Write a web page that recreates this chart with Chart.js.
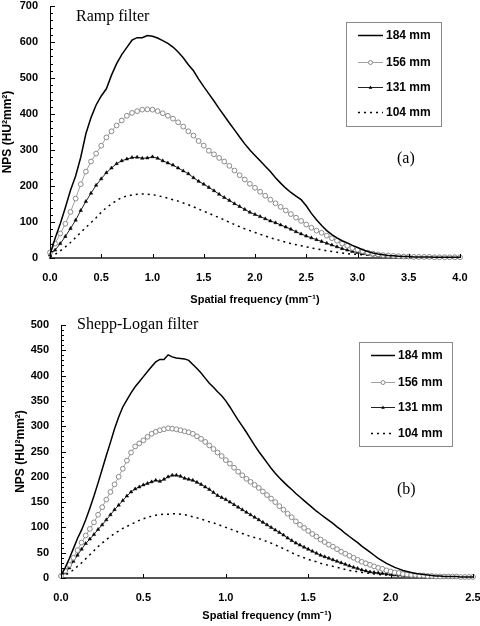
<!DOCTYPE html>
<html>
<head>
<meta charset="utf-8">
<script src="https://cdn.jsdelivr.net/npm/chart.js@4/dist/chart.umd.min.js"></script>
<style>
html, body { margin: 0; padding: 0; background: #fff; }
#wrap { position: relative; width: 480px; height: 626px; overflow: hidden; }
canvas { position: absolute; left: 0; }
#rampChart { top: 0; }
#sheppChart { top: 310px; }
</style>
</head>
<body>
<div id="wrap">
  <canvas id="rampChart" width="480" height="310"></canvas>
  <canvas id="sheppChart" width="480" height="316"></canvas>
</div>
<script>
// phantom diameters
const sizeLabels = ["184 mm", "156 mm", "131 mm", "104 mm"];

// (a) ramp filter, frequency in mm^-1
const freqA = [0,0.05,0.1,0.15,0.2,0.25,0.3,0.35,0.4,0.45,
	0.5,0.55,0.6,0.65,0.7,0.75,0.8,0.85,0.9,0.95,
	1,1.05,1.1,1.15,1.2,1.25,1.3,1.35,1.4,1.45,
	1.5,1.55,1.6,1.65,1.7,1.75,1.8,1.85,1.9,1.95,
	2,2.05,2.1,2.15,2.2,2.25,2.3,2.35,2.4,2.45,
	2.5,2.55,2.6,2.65,2.7,2.75,2.8,2.85,2.9,2.95,
	3,3.05,3.1,3.15,3.2,3.25,3.3,3.35,3.4,3.45,
	3.5,3.55,3.6,3.65,3.7,3.75,3.8,3.85,3.9,3.95,
	4];
const rampNps184 = [10,55,95,140,188,228,280,345,390,425,
	450,470,508,540,565,585,605,612,612,618,
	616,611,604,596,586,572,556,537,520,497,
	476,456,436,415,395,375,356,336,317,300,
	285,270,255,240,223,208,194,182,172,162,
	145,124,106,90,76,65,56,48,42,35,
	29,23,18,14,11,9,7,6,5,4,
	4,3,3,3,3,2,2,2,2,2,
	2];
const rampNps156 = [15,40,68,95,128,165,205,240,268,290,
	312,335,352,368,382,395,403,408,412,413,
	412,408,402,395,387,377,365,352,340,325,
	312,298,288,278,268,256,243,230,218,206,
	195,184,173,162,152,142,132,122,112,103,
	93,84,76,70,62,55,48,40,34,28,
	23,19,15,12,10,8,7,6,5,4,
	4,3,3,3,3,2,2,2,2,2,
	2];
const rampNps131 = [8,22,40,60,82,105,132,157,180,202,
	220,237,250,262,270,275,279,280,277,278,
	281,277,270,264,258,250,242,234,223,213,
	205,196,187,177,168,160,151,143,135,127,
	121,115,109,103,98,92,86,80,73,67,
	61,56,51,46,41,36,31,26,22,18,
	15,12,10,8,7,6,5,5,4,4,
	3,3,3,3,3,3,3,3,3,3,
	3];
const rampNps104 = [3,10,20,31,43,57,71,85,98,112,
	127,140,150,160,168,172,175,177,178,177,
	176,173,170,166,162,158,153,148,142,136,
	130,124,118,112,106,99,93,87,81,76,
	71,66,61,56,52,48,44,40,37,34,
	31,28,25,23,20,18,16,14,12,11,
	10,9,8,7,6,5,5,4,4,3,
	3,3,3,2,2,2,2,2,2,2,
	2];

// (b) Shepp-Logan filter
const freqB = [0,0.025,0.05,0.075,0.1,0.125,0.15,0.175,0.2,0.225,
	0.25,0.275,0.3,0.325,0.35,0.375,0.4,0.425,0.45,0.475,
	0.5,0.525,0.55,0.575,0.6,0.625,0.65,0.675,0.7,0.725,
	0.75,0.775,0.8,0.825,0.85,0.875,0.9,0.925,0.95,0.975,
	1,1.025,1.05,1.075,1.1,1.125,1.15,1.175,1.2,1.225,
	1.25,1.275,1.3,1.325,1.35,1.375,1.4,1.425,1.45,1.475,
	1.5,1.525,1.55,1.575,1.6,1.625,1.65,1.675,1.7,1.725,
	1.75,1.775,1.8,1.825,1.85,1.875,1.9,1.925,1.95,1.975,
	2,2.025,2.05,2.075,2.1,2.125,2.15,2.175,2.2,2.225,
	2.25,2.275,2.3,2.325,2.35,2.375,2.4,2.425,2.45,2.475,
	2.5];
const sheppNps184 = [5,20,38,58,78,95,115,138,162,188,
	215,242,268,295,318,338,352,366,378,388,
	398,408,418,427,432,432,441,437,435,434,
	433,430,422,414,405,395,385,377,368,360,
	350,338,325,312,300,288,275,262,250,239,
	228,217,207,198,190,182,175,167,160,153,
	146,139,132,126,120,114,108,101,95,88,
	82,76,70,63,57,51,45,39,34,29,
	25,21,18,15,13,11,9,8,7,6,
	5,4,4,3,3,3,3,2,2,2,
	2];
const sheppNps156 = [4,14,26,40,55,70,84,97,110,125,
	140,155,170,185,200,216,232,248,260,266,
	272,279,285,289,292,294,296,295,294,292,
	290,288,285,280,275,269,262,255,248,241,
	233,226,218,210,203,196,190,184,178,171,
	164,157,150,142,135,127,120,112,105,99,
	93,87,82,76,71,66,62,57,52,48,
	44,40,36,32,29,26,23,20,18,15,
	13,11,10,8,7,6,6,5,5,4,
	4,3,3,3,3,3,3,2,2,2,
	2];
const sheppNps131 = [3,10,20,33,45,57,68,77,86,96,
	105,115,125,135,144,153,162,170,176,180,
	184,187,190,193,191,195,200,203,203,201,
	197,195,193,189,185,180,175,169,163,159,
	155,150,145,140,135,130,125,120,115,110,
	105,100,95,90,85,79,74,69,65,61,
	57,53,49,45,42,39,36,33,30,27,
	24,21,19,16,14,12,11,10,9,8,
	7,6,6,5,5,4,4,4,4,3,
	3,3,3,3,3,2,2,2,2,2,
	2];
const sheppNps104 = [2,6,10,16,23,30,38,46,54,62,
	69,76,82,88,93,98,102,106,110,114,
	117,120,122,124,125,126,126,127,127,126,
	125,123,121,119,116,114,111,109,106,103,
	100,97,94,91,88,85,82,80,78,75,
	72,69,65,62,58,54,50,46,43,40,
	37,34,32,29,27,25,23,21,19,17,
	15,14,12,11,10,9,8,7,6,6,
	5,5,4,4,3,3,3,3,2,2,
	2,2,2,2,1,1,1,1,1,1,
	1];

Chart.defaults.font.family = "'Liberation Sans', Arial, sans-serif";
Chart.defaults.color = "#000";

const lineStyles = [
	{ borderColor: "#000", borderWidth: 1.5, pointRadius: 0 },
	{ borderColor: "#a0a0a0", borderWidth: 1, pointStyle: "circle", pointRadius: 2.4,
		pointBorderColor: "#8a8a8a", pointBackgroundColor: "#fff", pointBorderWidth: 1 },
	{ borderColor: "#222", borderWidth: 1, pointStyle: "triangle", pointRadius: 2,
		pointBorderColor: "#000", pointBackgroundColor: "#000", pointBorderWidth: 0.5 },
	{ borderColor: "#000", borderWidth: 1.5, borderDash: [2, 4], pointRadius: 0 },
];

function makeDatasets(freq, series) {
	return series.map((vals, i) => Object.assign({
		label: sizeLabels[i],
		data: freq.map((f, k) => ({ x: f, y: vals[k] })),
		showLine: true,
		fill: false,
		tension: 0,
		clip: false,
		pointHoverRadius: 0,
	}, lineStyles[i]));
}

// tick marks drawn inside the plot, like the original figure
const innerTicks = {
	id: "innerTicks",
	afterDatasetsDraw(chart, args, opts) {
		const { ctx, chartArea: a, scales: { x, y } } = chart;
		ctx.save();
		ctx.strokeStyle = "#000";
		ctx.lineWidth = 1;
		ctx.beginPath();
		y.ticks.forEach(t => {
			const py = Math.round(y.getPixelForValue(t.value)) + 0.5;
			const len = t.value % opts.yMajor === 0 ? 5 : 3;
			ctx.moveTo(a.left, py);
			ctx.lineTo(a.left + len, py);
		});
		x.ticks.forEach(t => {
			const px = Math.round(x.getPixelForValue(t.value)) + 0.5;
			ctx.moveTo(px, a.bottom);
			ctx.lineTo(px, a.bottom - 4);
		});
		ctx.stroke();
		ctx.restore();
	}
};

// framed legend inside the plot area
const boxLegend = {
	id: "boxLegend",
	afterDraw(chart, args, opts) {
		const ctx = chart.ctx;
		ctx.save();
		ctx.strokeStyle = "#8a8a8a";
		ctx.lineWidth = 1;
		ctx.strokeRect(opts.x + 0.5, opts.y + 0.5, opts.w, opts.h);
		ctx.font = "bold 12px 'Liberation Sans', Arial, sans-serif";
		ctx.textBaseline = "middle";
		ctx.fillStyle = "#000";
		chart.data.datasets.forEach((ds, i) => {
			const y = opts.rows[i] + 0.5;
			const x0 = opts.lineX, x1 = opts.lineX + opts.lineW;
			ctx.beginPath();
			ctx.strokeStyle = ds.borderColor;
			ctx.lineWidth = ds.borderWidth;
			ctx.setLineDash(ds.borderDash || []);
			ctx.moveTo(x0, y);
			ctx.lineTo(x1, y);
			ctx.stroke();
			ctx.setLineDash([]);
			const mx = (x0 + x1) / 2;
			if (ds.pointStyle === "circle") {
				ctx.beginPath();
				ctx.arc(mx, y, 2, 0, Math.PI * 2);
				ctx.fillStyle = "#fff";
				ctx.fill();
				ctx.strokeStyle = ds.pointBorderColor;
				ctx.lineWidth = 1;
				ctx.stroke();
			} else if (ds.pointStyle === "triangle") {
				ctx.beginPath();
				ctx.moveTo(mx, y - 2);
				ctx.lineTo(mx + 1.8, y + 1.2);
				ctx.lineTo(mx - 1.8, y + 1.2);
				ctx.closePath();
				ctx.fillStyle = "#000";
				ctx.fill();
			}
			ctx.fillStyle = "#000";
			ctx.fillText(ds.label, opts.textX, y);
		});
		ctx.restore();
	}
};

const panelText = {
	id: "panelText",
	afterDraw(chart, args, opts) {
		const ctx = chart.ctx;
		ctx.save();
		ctx.font = "16px 'Liberation Serif', 'Times New Roman', serif";
		ctx.fillStyle = "#000";
		ctx.textBaseline = "alphabetic";
		ctx.fillText(opts.title, opts.titleX, opts.titleY);
		ctx.fillText(opts.tag, opts.tagX, opts.tagY);
		ctx.restore();
	}
};

function makeScales(xMax, yMax, yMajor, yW, xH) {
	const tickFont = { size: 11, weight: "bold" };
	return {
		x: {
			type: "linear", min: 0, max: xMax,
			ticks: { stepSize: 0.5, autoSkip: false, maxRotation: 0, padding: 13, font: tickFont,
				callback: v => v.toFixed(1) },
			grid: { display: false, drawTicks: false },
			border: { display: true, color: "#555", width: 2 },
			title: { display: true, text: "Spatial frequency (mm⁻¹)", font: { size: 11, weight: "bold" },
				padding: { top: 0, bottom: 3 } },
			// keep the plot width fixed; end labels may run past the edge as in the original
			afterFit: s => { s.height = xH; s.paddingLeft = 0; s.paddingRight = 0; },
		},
		y: {
			min: 0, max: yMax,
			ticks: { stepSize: yMajor / 5, autoSkip: false, padding: 12, font: tickFont,
				callback: v => (v % yMajor === 0 ? v : "") },
			grid: { display: false, drawTicks: false },
			border: { display: true, color: "#000", width: 1 },
			title: { display: true, text: "NPS (HU²mm²)", font: { size: 12, weight: "bold" },
				padding: { top: 0, bottom: 0 } },
			afterFit: s => { s.width = yW; s.paddingTop = 0; s.paddingBottom = 0; },
		},
	};
}

new Chart(document.getElementById("rampChart"), {
	type: "scatter",
	data: { datasets: makeDatasets(freqA, [rampNps184, rampNps156, rampNps131, rampNps104]) },
	options: {
		responsive: false,
		animation: false,
		events: [],
		layout: { padding: { top: 6, right: 20, left: 0, bottom: 0 } },
		scales: makeScales(4, 700, 100, 50, 52),
		plugins: {
			legend: { display: false },
			tooltip: { enabled: false },
			innerTicks: { yMajor: 100 },
			boxLegend: { x: 346, y: 22, w: 95, h: 104, rows: [35, 62, 87, 112], lineX: 358, lineW: 25, textX: 386 },
			panelText: { title: "Ramp filter", titleX: 76, titleY: 21, tag: "(a)", tagX: 397, tagY: 163 },
		},
	},
	plugins: [innerTicks, boxLegend, panelText],
});

new Chart(document.getElementById("sheppChart"), {
	type: "scatter",
	data: { datasets: makeDatasets(freqB, [sheppNps184, sheppNps156, sheppNps131, sheppNps104]) },
	options: {
		responsive: false,
		animation: false,
		events: [],
		layout: { padding: { top: 15, right: 7, left: 13, bottom: 0 } },
		scales: makeScales(2.5, 500, 50, 48, 48),
		plugins: {
			legend: { display: false },
			tooltip: { enabled: false },
			innerTicks: { yMajor: 50 },
			boxLegend: { x: 359, y: 32, w: 93, h: 104, rows: [45, 72, 97, 123], lineX: 371, lineW: 24, textX: 398 },
			panelText: { title: "Shepp-Logan filter", titleX: 77, titleY: 19, tag: "(b)", tagX: 397, tagY: 184 },
		},
	},
	plugins: [innerTicks, boxLegend, panelText],
});
</script>
</body>
</html>
